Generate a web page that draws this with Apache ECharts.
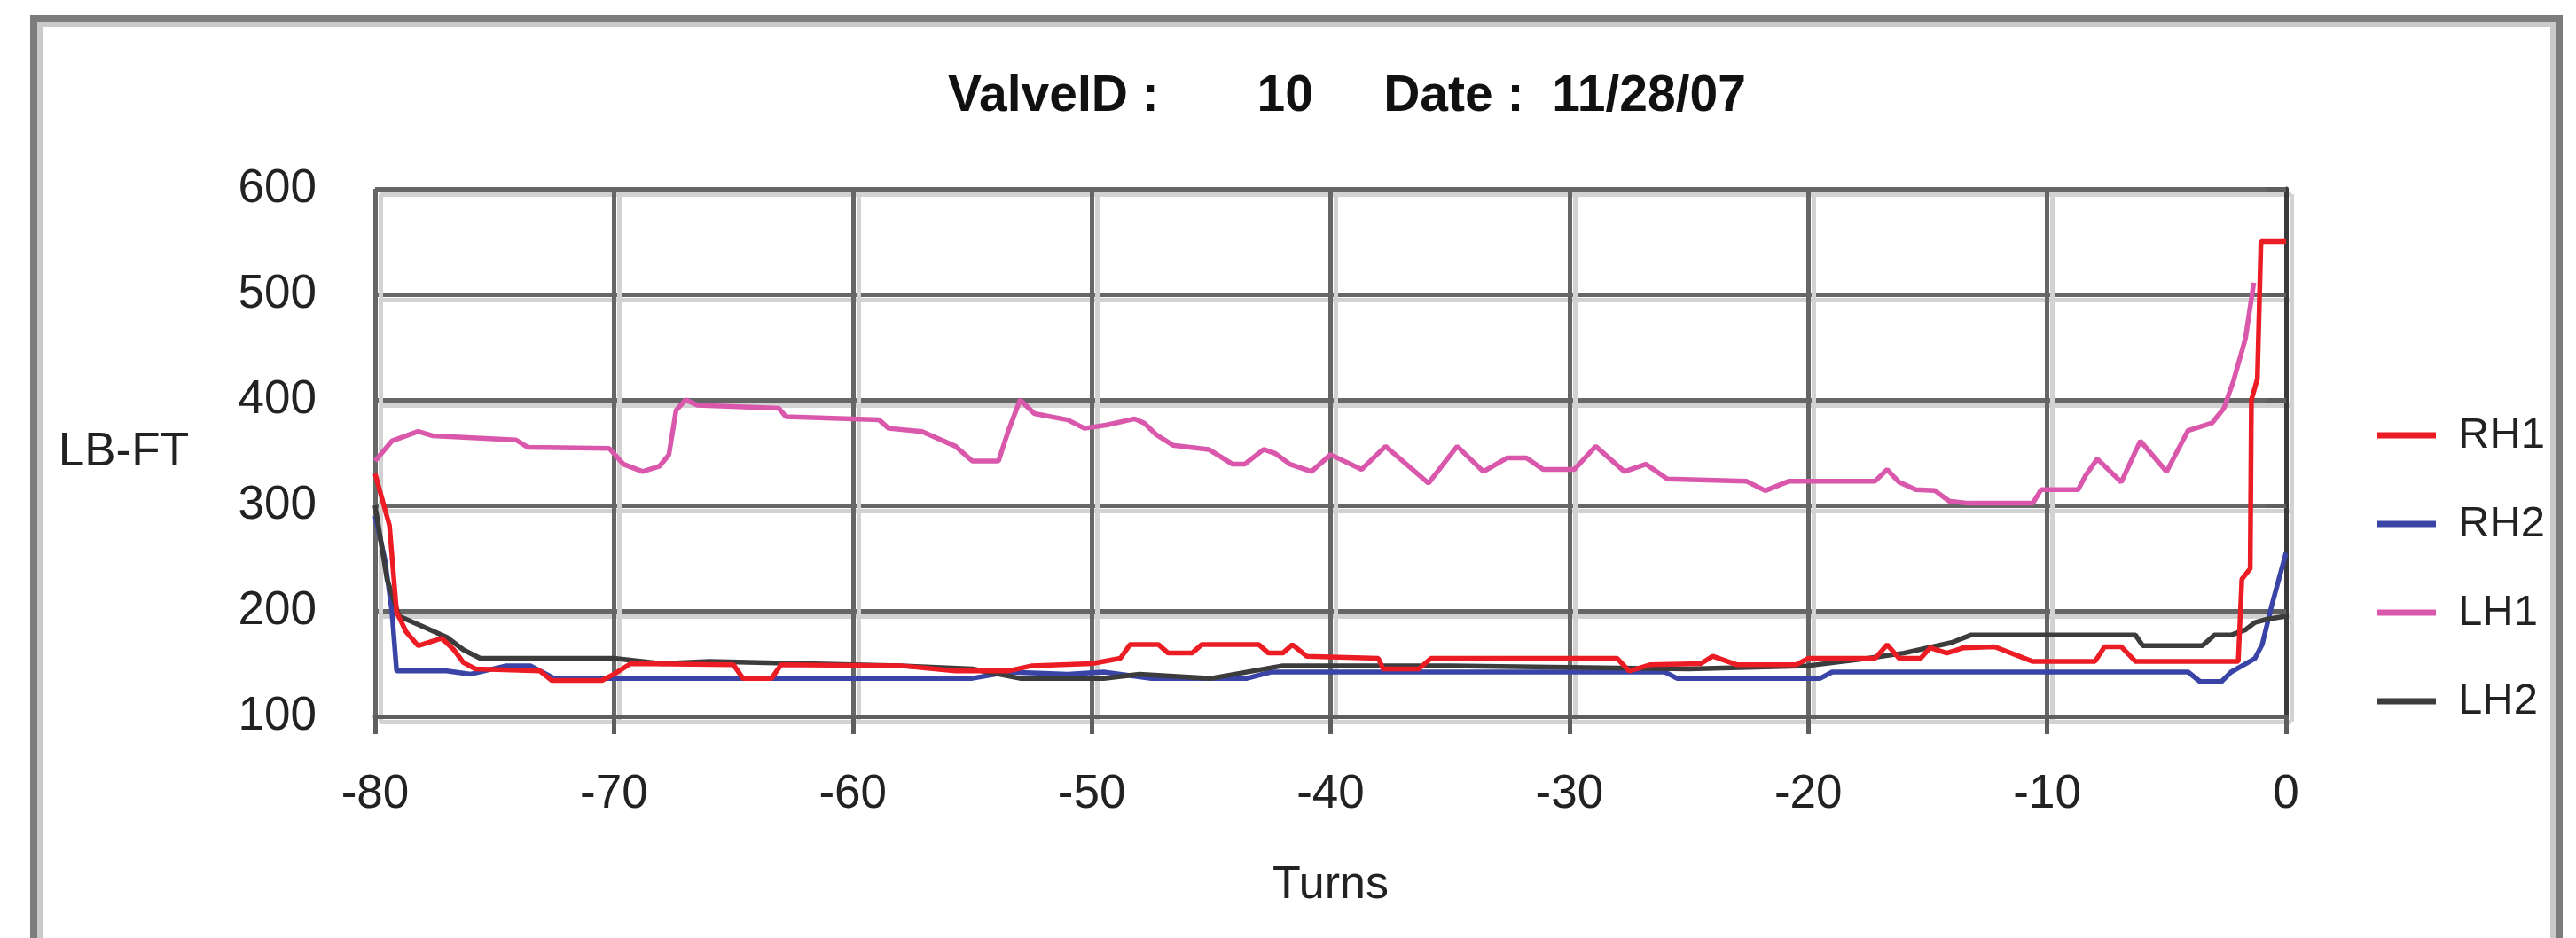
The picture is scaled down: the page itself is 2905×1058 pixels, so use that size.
<!DOCTYPE html>
<html><head><meta charset="utf-8">
<script src="https://cdn.jsdelivr.net/npm/echarts@6/dist/echarts.min.js"></script>
<style>html,body{margin:0;padding:0;background:#fff}#c{width:2905px;height:1058px}</style>
</head><body><div id="c"></div>
<script>
const titleText = 'ValveID :       10     Date :  11/28/07';
const seriesNames = ['RH1', 'RH2', 'LH1', 'LH2'];
const xRange = [-80, 0, 10];
const yRange = [100, 600, 100];

const rh1 = [[-80,330],[-79.4,281],[-79.1,199],[-78.7,180],[-78.2,167],[-77.2,174],[-76.7,163],[-76.3,151],[-75.8,145],[-73.1,143],[-72.6,134],[-70.5,134],[-70,140],[-69.3,150],[-65,149],[-64.6,136],[-63.4,136],[-63,149],[-58,148],[-55.7,143],[-53.5,143],[-52.5,148],[-50,150],[-48.8,155],[-48.4,168],[-47.2,168],[-46.8,160],[-45.8,160],[-45.4,168],[-43.0,168],[-42.6,160],[-42.0,160],[-41.6,168],[-41.0,157],[-38,155],[-37.8,145],[-36.3,145],[-35.8,155],[-28,155],[-27.5,143],[-26.6,149],[-24.5,150],[-24,157],[-23,149],[-20.5,149],[-20,155],[-17.2,155],[-16.7,168],[-16.2,155],[-15.3,155],[-14.9,165],[-14.2,160],[-13.5,165],[-12.2,166],[-10.6,152],[-8.0,152],[-7.6,166],[-6.9,166],[-6.3,152],[-2.0,152],[-1.85,230],[-1.5,240],[-1.45,400],[-1.2,420],[-1.05,550],[0,550]];
const rh2 = [[-80,290],[-79.6,250],[-79.3,200],[-79.1,143],[-77,143],[-76,140],[-74.5,148],[-73.5,148],[-72.5,136],[-55,136],[-53.5,142],[-51,140],[-49.5,142],[-47.5,136],[-43.5,136],[-42.5,142],[-26,142],[-25.5,136],[-19.5,136],[-19,142],[-4.1,142],[-3.6,133],[-2.7,133],[-2.3,142],[-1.75,149],[-1.3,155],[-1.0,168],[-0.6,205],[0,255]];
const lh1 = [[-80,342],[-79.3,361],[-78.2,370],[-77.6,366],[-74.1,362],[-73.6,355],[-70.2,354],[-69.6,339],[-68.8,332],[-68.1,337],[-67.7,348],[-67.4,390],[-67.0,400],[-66.5,395],[-63.1,392],[-62.8,384],[-58.9,381],[-58.5,373],[-57.1,370],[-55.7,356],[-55.0,342],[-53.9,342],[-53.5,370],[-53.0,400],[-52.4,387],[-51.0,381],[-50.3,373],[-49.4,376],[-48.2,382],[-47.8,378],[-47.3,367],[-46.6,357],[-45.1,353],[-44.1,339],[-43.6,339],[-42.8,353],[-42.3,349],[-41.7,339],[-40.8,332],[-40.0,348],[-38.7,334],[-37.7,356],[-35.9,321],[-34.7,356],[-33.6,332],[-32.6,345],[-31.8,345],[-31.1,334],[-29.8,334],[-28.9,356],[-27.7,332],[-26.8,339],[-25.9,325],[-22.6,323],[-21.8,314],[-20.8,323],[-17.2,323],[-16.7,334],[-16.2,322],[-15.5,315],[-14.7,314],[-14.1,304],[-13.3,302],[-10.6,302],[-10.25,315],[-8.7,315],[-8.4,328],[-7.9,344],[-6.9,322],[-6.1,361],[-5.0,332],[-4.1,371],[-3.1,378],[-2.6,392],[-2.2,418],[-1.7,458],[-1.35,511]];
const lh2 = [[-80,300],[-79.5,230],[-79,195],[-78,185],[-77,175],[-76.3,163],[-75.6,155],[-70,155],[-68,150],[-66,152],[-62,150],[-58,148],[-55,145],[-53,136],[-49.5,136],[-48,140],[-45,136],[-42,148],[-35,148],[-25,145],[-20,148],[-17.5,155],[-16,160],[-14,170],[-13.2,177],[-6.3,177],[-6,167],[-3.5,167],[-3,177],[-2.3,177],[-1.7,182],[-1.3,189],[-0.8,192],[0,195]];

const seriesData = [rh1, rh2, lh1, lh2];
const colors = ['#ec1c24', '#3a44a6', '#d958ab', '#3c3c3c'];
const zs = [6, 4, 3, 5];

const FONT = 'Liberation Sans, Arial, sans-serif';
const chart = echarts.init(document.getElementById('c'), null, {renderer: 'canvas'});

const G = {left: 423, right: 327, top: 213, bottom: 250};
const option = {
  backgroundColor: '#ffffff',
  animation: false,
  title: {
    text: titleText, left: 1514, top: 76, textAlign: 'center',
    textStyle: {fontFamily: FONT, fontWeight: 'bold', fontSize: 57, color: '#111'}
  },
  legend: {
    orient: 'vertical', left: 2676, top: 460,
    data: seriesNames, icon: 'rect', itemWidth: 66, itemHeight: 7, itemGap: 48,
    textStyle: {fontFamily: FONT, fontSize: 49, color: '#222', lineHeight: 52, padding: [0, 0, 0, 20]}
  },
  grid: [
    {left: G.left, right: G.right, top: G.top, bottom: G.bottom},
    {left: G.left + 6, right: G.right - 6, top: G.top + 6, bottom: G.bottom - 6}
  ],
  xAxis: [
    {
      type: 'value', gridIndex: 0, min: xRange[0], max: xRange[1], interval: xRange[2],
      axisLine: {show: true, lineStyle: {color: '#5e5e5e', width: 5}},
      axisTick: {show: true, length: 20, lineStyle: {color: '#5e5e5e', width: 5}},
      axisLabel: {margin: 62, fontFamily: FONT, fontSize: 53, color: '#222'},
      splitLine: {show: true, lineStyle: {color: '#666666', width: 5}},
      name: 'Turns', nameLocation: 'middle', nameGap: 165,
      nameTextStyle: {fontFamily: FONT, fontSize: 52, color: '#222'}
    },
    {
      type: 'value', gridIndex: 1, min: xRange[0], max: xRange[1], interval: xRange[2],
      axisLine: {show: false}, axisTick: {show: false}, axisLabel: {show: false},
      splitLine: {show: true, lineStyle: {color: '#d2d2d2', width: 5}}
    }
  ],
  yAxis: [
    {
      type: 'value', gridIndex: 0, min: yRange[0], max: yRange[1], interval: yRange[2],
      axisLine: {show: true, lineStyle: {color: '#3a3a3a', width: 5}},
      axisTick: {show: true, length: 22, lineStyle: {color: '#5e5e5e', width: 5}},
      axisLabel: {margin: 66, fontFamily: FONT, fontSize: 53, color: '#222'},
      splitLine: {show: true, lineStyle: {color: '#666666', width: 5}},
      name: 'LB-FT', nameLocation: 'middle', nameGap: 210, nameRotate: 0,
      nameTextStyle: {fontFamily: FONT, fontSize: 53, color: '#222', align: 'right', verticalAlign: 'middle'}
    },
    {
      type: 'value', gridIndex: 1, min: yRange[0], max: yRange[1], interval: yRange[2],
      axisLine: {show: false}, axisTick: {show: false}, axisLabel: {show: false},
      splitLine: {show: true, lineStyle: {color: '#d2d2d2', width: 5}}
    }
  ],
  graphic: [
    {type: 'rect', z: -10, silent: true, shape: {x: 38, y: 21, width: 2848, height: 1120},
     style: {fill: 'none', stroke: '#7c7c7c', lineWidth: 8}},
    {type: 'rect', z: -10, silent: true, shape: {x: 45, y: 28, width: 2834, height: 1110},
     style: {fill: 'none', stroke: '#cacaca', lineWidth: 6}}
  ],
  series: seriesNames.map((n, i) => ({
    name: n, type: 'line', xAxisIndex: 0, yAxisIndex: 0,
    data: seriesData[i], showSymbol: false, symbol: 'none', z: zs[i],
    lineStyle: {color: colors[i], width: 5.5}, itemStyle: {color: colors[i]}
  }))
};
chart.setOption(option);
</script></body></html>
